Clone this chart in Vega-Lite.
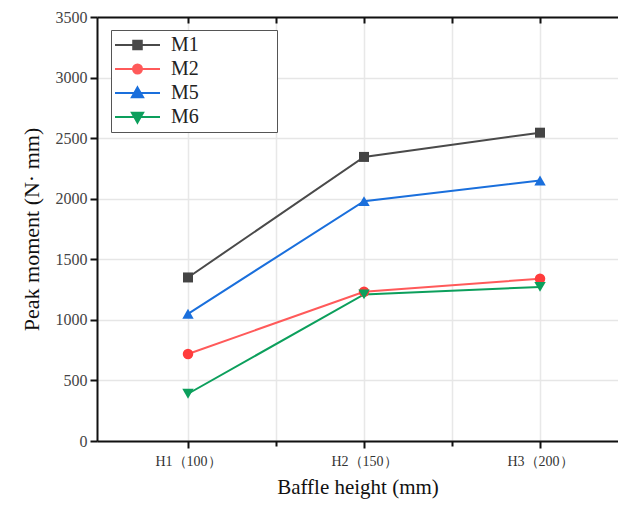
{
  "$schema": "https://vega.github.io/schema/vega-lite/v6.json",
  "autosize": {"type": "none"},
  "padding": {"left": 97, "top": 17, "right": 0, "bottom": 69},
  "width": 521,
  "height": 424,
  "background": "white",
  "config": {
    "view": {"stroke": null},
    "font": "Liberation Serif"
  },
  "data": {
    "values": [
      {"h": 1, "series": "M1", "moment": 1350},
      {"h": 2, "series": "M1", "moment": 2345},
      {"h": 3, "series": "M1", "moment": 2545},
      {"h": 1, "series": "M2", "moment": 718},
      {"h": 2, "series": "M2", "moment": 1232},
      {"h": 3, "series": "M2", "moment": 1340},
      {"h": 1, "series": "M5", "moment": 1050},
      {"h": 2, "series": "M5", "moment": 1980},
      {"h": 3, "series": "M5", "moment": 2150},
      {"h": 1, "series": "M6", "moment": 390},
      {"h": 2, "series": "M6", "moment": 1210},
      {"h": 3, "series": "M6", "moment": 1272}
    ]
  },
  "layer": [
    {
      "mark": {"type": "line", "strokeWidth": 2},
      "encoding": {
        "x": {
          "field": "h", "type": "quantitative",
          "scale": {"domain": [0.483, 3.443], "nice": false, "zero": false},
          "axis": {
            "orient": "bottom",
            "values": [1, 1.5, 2, 2.5, 3],
            "labelExpr": "datum.value == 1 ? 'H1（100）' : datum.value == 2 ? 'H2（150）' : datum.value == 3 ? 'H3（200）' : ''",
            "title": "Baffle height (mm)",
            "titleFont": "Liberation Serif",
            "titleFontSize": 21,
            "titleFontWeight": "normal",
            "titleColor": "#111",
            "titlePadding": 8,
            "labelFont": "Liberation Serif",
            "labelFontSize": 14,
            "labelColor": "#333",
            "labelPadding": 6,
            "domainColor": "#111",
            "domainWidth": 2,
            "tickColor": "#111",
            "tickWidth": 2,
            "tickSize": {"condition": {"test": "datum.value % 1 === 0", "value": 7}, "value": 5},
            "grid": true,
            "gridColor": "#e8e8e8",
            "gridWidth": 1.5
          }
        },
        "y": {
          "field": "moment", "type": "quantitative",
          "scale": {"domain": [0, 3500], "nice": false},
          "axis": {
            "values": [0, 250, 500, 750, 1000, 1250, 1500, 1750, 2000, 2250, 2500, 2750, 3000, 3250, 3500],
            "labelExpr": "datum.value % 500 === 0 ? format(datum.value, 'd') : ''",
            "title": "Peak moment (N· mm)",
            "titleFont": "Liberation Serif",
            "titleFontSize": 22,
            "titleFontWeight": "normal",
            "titleColor": "#111",
            "titlePadding": 12,
            "labelFont": "Liberation Serif",
            "labelFontSize": 16,
            "labelColor": "#444",
            "labelPadding": 3,
            "labelFlush": false,
            "domainColor": "#111",
            "domainWidth": 2,
            "tickColor": "#111",
            "tickWidth": 2,
            "tickSize": {"condition": {"test": "datum.value % 500 === 0", "value": 7}, "value": 4},
            "grid": true,
            "gridColor": {"condition": {"test": "datum.value % 500 === 0", "value": "#e6e6e6"}, "value": "transparent"},
            "gridWidth": 1.5
          }
        },
        "color": {
          "field": "series", "type": "nominal",
          "scale": {"domain": ["M1", "M2", "M5", "M6"], "range": ["#4a4a4a", "#ff5a5a", "#1a6fdc", "#0c9f5c"]},
          "legend": {
            "title": null,
            "orient": "none",
            "legendX": 14,
            "legendY": 13,
            "direction": "vertical",
            "symbolSize": 2025,
            "symbolStrokeWidth": 2,
            "clipHeight": 24,
            "rowPadding": 0,
            "labelFont": "Liberation Serif",
            "labelFontSize": 20,
            "labelColor": "#222",
            "labelOffset": 10,
            "padding": 3,
            "strokeColor": "#555",
            "fillColor": "white",
            "labelLimit": 300,
            "encode": {
              "symbols": {
                "update": {
                  "shape": {"signal": "datum.value === 'M1' ? 'M-1,0H1M-0.19,-0.19H0.19V0.19H-0.19Z' : datum.value === 'M2' ? 'M-1,0H1M-0.2,0A0.2,0.2,0,1,1,0.2,0A0.2,0.2,0,1,1,-0.2,0Z' : datum.value === 'M5' ? 'M-1,0H1M0,-0.25L0.25,0.19L-0.25,0.19Z' : 'M-1,0H1M0,0.25L0.25,-0.19L-0.25,-0.19Z'"},
                  "fill": {"signal": "scale('color', datum.value)"},
                  "fillOpacity": {"value": 1}
                }
              },
              "labels": {
                "update": {
                  "text": {"signal": "datum.label + '\u2800\u2800\u2800\u2800\u2800'"}
                }
              }
            }
          }
        }
      }
    },
    {
      "transform": [{"filter": "datum.series === 'M1'"}],
      "mark": {"type": "point", "filled": true, "opacity": 1, "shape": "square", "size": 100, "color": "#444444"},
      "encoding": {
        "x": {
          "field": "h", "type": "quantitative",
          "axis": {
            "orient": "top",
            "values": [1, 1.5, 2, 2.5, 3],
            "labels": false,
            "title": null,
            "grid": false,
            "domainColor": "#111",
            "domainWidth": 2,
            "tickColor": "#111",
            "tickWidth": 2,
            "tickSize": -6
          }
        },
        "y": {"field": "moment", "type": "quantitative"}
      }
    },
    {
      "transform": [{"filter": "datum.series === 'M2'"}],
      "mark": {"type": "point", "filled": true, "opacity": 1, "shape": "circle", "size": 110, "color": "#ff3c3c"},
      "encoding": {
        "x": {"field": "h", "type": "quantitative", "axis": null},
        "y": {"field": "moment", "type": "quantitative"}
      }
    },
    {
      "transform": [{"filter": "datum.series === 'M5'"}],
      "mark": {"type": "point", "filled": true, "opacity": 1, "shape": "triangle-up", "size": 130, "color": "#1a6fdc"},
      "encoding": {
        "x": {"field": "h", "type": "quantitative", "axis": null},
        "y": {"field": "moment", "type": "quantitative"}
      }
    },
    {
      "transform": [{"filter": "datum.series === 'M6'"}],
      "mark": {"type": "point", "filled": true, "opacity": 1, "shape": "triangle-down", "size": 130, "color": "#0c9f5c"},
      "encoding": {
        "x": {"field": "h", "type": "quantitative", "axis": null},
        "y": {"field": "moment", "type": "quantitative"}
      }
    }
  ],
  "resolve": {"axis": {"x": "independent"}}
}
